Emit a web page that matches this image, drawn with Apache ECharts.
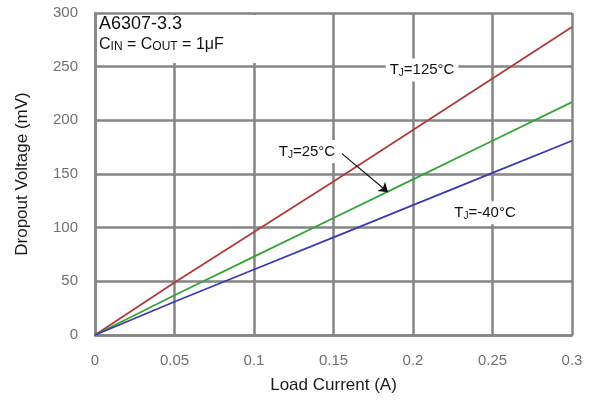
<!DOCTYPE html>
<html>
<head>
<meta charset="utf-8">
<script src="https://cdn.jsdelivr.net/npm/echarts@6/dist/echarts.min.js"></script>
<style>
  html, body { margin: 0; padding: 0; background: #fff; }
  #chart { width: 595px; height: 405px; }
</style>
</head>
<body>
<div id="chart"></div>
<script>
// load current (A)
const current = [0, 0.05, 0.1, 0.15, 0.2, 0.25, 0.3];
// dropout voltage (mV) per junction temperature
const vdrop_125 = [0, 49, 96, 143, 191, 239, 287];
const vdrop_25 = [0, 37, 73, 109, 145, 181, 217];
const vdrop_m40 = [0, 31, 61, 91, 121, 151, 181];

const xTicks = [0, 0.05, 0.1, 0.15, 0.2, 0.25, 0.3];
const yTicks = [0, 50, 100, 150, 200, 250, 300];

function pairs(xs, ys) {
    return xs.map((x, i) => [x, ys[i]]);
}

const gridColor = '#858585';
const font = 'Arial, "Liberation Sans", sans-serif';

const tjRich = {
    t: {fontSize: 15, color: '#111', fontFamily: font},
    s: {fontSize: 10, color: '#111', fontFamily: font, padding: [7, 0, 0, 0]}
};

function tjLabel(temp, coord) {
    return {
        coord: coord,
        symbolSize: 0,
        label: {
            show: true,
            position: 'inside',
            formatter: '{t|T}{s|J}{t|=' + temp + '°C}',
            rich: tjRich,
            backgroundColor: '#fff',
            padding: [3, 4, 3, 4]
        }
    };
}

const chartDom = document.getElementById('chart');
const myChart = echarts.init(chartDom);

let option = {
    animation: false,
    backgroundColor: '#fff',
    grid: {left: 95, right: 23, top: 13, bottom: 70},
    xAxis: {
        type: 'value',
        min: 0, max: 0.3, interval: 0.05,
        name: 'Load Current (A)',
        nameLocation: 'middle',
        nameGap: 42,
        nameTextStyle: {fontSize: 17, color: '#1a1a1a', fontFamily: font},
        axisLine: {show: true, lineStyle: {color: gridColor, width: 2.5}},
        axisTick: {show: false},
        splitLine: {show: true, lineStyle: {color: gridColor, width: 2.5}},
        axisLabel: {
            color: '#707070', fontSize: 15, fontFamily: font, margin: 18,
            formatter: v => {
                const t = xTicks.find(x => Math.abs(x - v) < 1e-9);
                return t === undefined ? '' : String(t);
            }
        }
    },
    yAxis: {
        type: 'value',
        min: 0, max: 300, interval: 50,
        name: 'Dropout Voltage (mV)',
        nameLocation: 'middle',
        nameGap: 64,
        nameTextStyle: {fontSize: 17, color: '#1a1a1a', fontFamily: font},
        axisLine: {show: true, lineStyle: {color: gridColor, width: 2.5}},
        axisTick: {show: false},
        splitLine: {show: true, lineStyle: {color: gridColor, width: 2.5}},
        axisLabel: {
            color: '#707070', fontSize: 15, fontFamily: font, margin: 17,
            formatter: v => yTicks.includes(v) ? String(v) : ''
        }
    },
    series: [
        {
            name: 'TJ=125C',
            type: 'line',
            data: pairs(current, vdrop_125),
            showSymbol: false,
            lineStyle: {color: '#b03a3a', width: 1.8},
            z: 3,
            markPoint: {
                symbol: 'rect',
                data: [tjLabel('125', [0.2057, 247])]
            }
        },
        {
            name: 'TJ=25C',
            type: 'line',
            data: pairs(current, vdrop_25),
            showSymbol: false,
            lineStyle: {color: '#33a433', width: 1.8},
            z: 3,
            markPoint: {
                symbol: 'rect',
                data: [tjLabel('25', [0.1333, 171])]
            },
            markLine: {
                silent: true,
                symbol: ['none', 'arrow'],
                symbolSize: 9,
                lineStyle: {color: '#111', width: 1.2, type: 'solid'},
                label: {show: false},
                data: [[{coord: [0.1553, 169]}, {coord: [0.1843, 133]}]]
            }
        },
        {
            name: 'TJ=-40C',
            type: 'line',
            data: pairs(current, vdrop_m40),
            showSymbol: false,
            lineStyle: {color: '#3a3ab0', width: 1.8},
            z: 3,
            markPoint: {
                symbol: 'rect',
                data: [tjLabel('-40', [0.2453, 114])]
            }
        }
    ],
    graphic: [
        {
            type: 'rect',
            shape: {x: 97, y: 15, width: 234, height: 48},
            style: {fill: '#fff'},
            z: 10
        },
        {
            type: 'text',
            left: 99, top: 15,
            z: 11,
            style: {
                text: 'A6307-3.3',
                font: '18px Arial, "Liberation Sans", sans-serif',
                fill: '#111'
            }
        },
        {
            type: 'text',
            left: 99, top: 37,
            z: 11,
            style: {
                text: '{b|C}{s|IN}{b| = C}{s|OUT}{b| = 1μF}',
                rich: {
                    b: {fontSize: 16, fontFamily: font, fill: '#111', color: '#111'},
                    s: {fontSize: 12, fontFamily: font, fill: '#111', color: '#111', padding: [3, 0, 0, 0]}
                }
            }
        }
    ]
};

option && myChart.setOption(option);
</script>
</body>
</html>
